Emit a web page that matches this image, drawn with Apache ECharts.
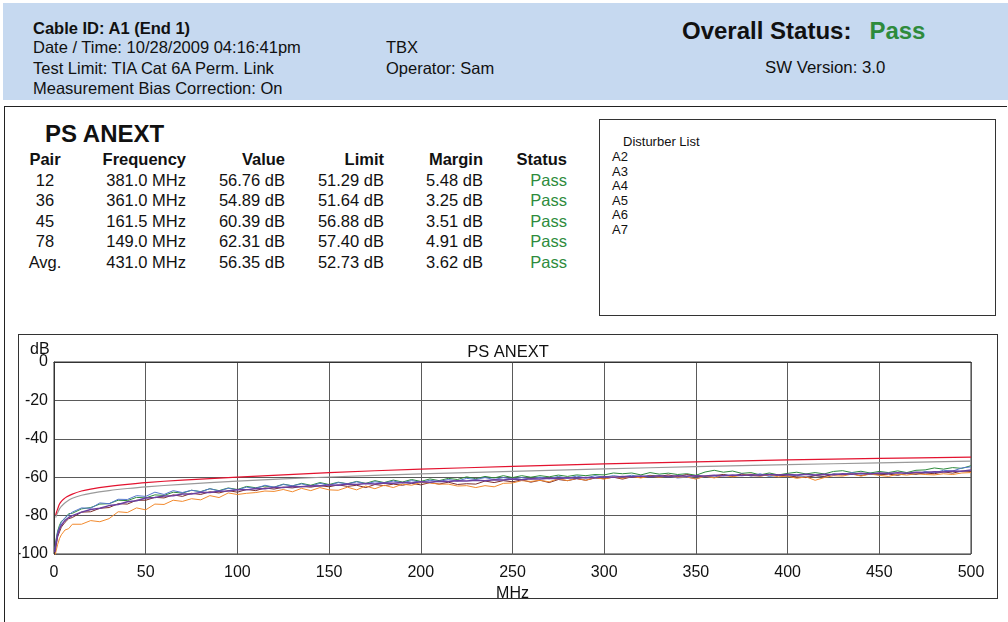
<!DOCTYPE html>
<html>
<head>
<meta charset="utf-8">
<script src="https://cdn.jsdelivr.net/npm/echarts@6/dist/echarts.min.js"></script>
<style>
    body{margin:0;width:1008px;height:622px;overflow:hidden;background:#fff;position:relative;
        font-family:"Liberation Sans",Arial,sans-serif;color:#111;}
    .t{position:absolute;white-space:nowrap;line-height:20px;font-size:16.5px;}
    .b{font-weight:bold;}
    .r{text-align:right;}
    .c{text-align:center;}
    .pass{color:#2e8b3c;}
    #head{position:absolute;left:3px;top:3px;width:1005px;height:97px;background:#c6d9f0;}
    #frame{position:absolute;left:4px;top:106px;width:1002px;height:530px;border-top:1px solid #222;border-left:1px solid #222;}
    #dist{position:absolute;left:599px;top:119px;width:395px;height:195px;border:1px solid #333;}
    .d{position:absolute;white-space:nowrap;font-size:13px;line-height:14px;}
    #chartcon{position:absolute;left:18px;top:334px;width:980px;height:265px;border:1px solid #333;box-sizing:border-box;}
</style>
</head>
<body>
<div id="head"></div>
<div class="t b" style="left:33px;top:18px;">Cable ID: A1 (End 1)</div>
<div class="t" style="left:33px;top:37px;">Date / Time: 10/28/2009 04:16:41pm</div>
<div class="t" style="left:33px;top:58px;">Test Limit: TIA Cat 6A Perm. Link</div>
<div class="t" style="left:33px;top:78px;">Measurement Bias Correction: On</div>
<div class="t" style="left:386px;top:37px;">TBX</div>
<div class="t" style="left:386px;top:58px;">Operator: Sam</div>
<div class="t b" style="left:682px;top:17px;font-size:24px;line-height:28px;">Overall Status:<span class="pass" style="margin-left:18px;">Pass</span></div>
<div class="t" style="left:765px;top:58px;font-size:16.8px;">SW Version: 3.0</div>

<div id="frame"></div>

<div id="table"></div>

<div id="dist"></div>
<div id="distText"></div>

<div id="chartcon"></div>

<script>
    // 表格数据
    let pairs = ['12', '36', '45', '78', 'Avg.']
    let worstFreq = ['381.0 MHz', '361.0 MHz', '161.5 MHz', '149.0 MHz', '431.0 MHz']
    let worstValue = ['56.76 dB', '54.89 dB', '60.39 dB', '62.31 dB', '56.35 dB']
    let worstLimit = ['51.29 dB', '51.64 dB', '56.88 dB', '57.40 dB', '52.73 dB']
    let worstMargin = ['5.48 dB', '3.25 dB', '3.51 dB', '4.91 dB', '3.62 dB']
    let pairStatus = ['Pass', 'Pass', 'Pass', 'Pass', 'Pass']
    let disturbers = ['A2', 'A3', 'A4', 'A5', 'A6', 'A7']

    // 曲线数据 (MHz / dB)
    let freqMHz = [0.5,1,2,3,4,6,8,10,
        15,20,25,30,35,40,45,50,55,60,
        65,70,75,80,85,90,95,100,105,110,
        115,120,125,130,135,140,145,150,155,160,
        165,170,175,180,185,190,195,200,205,210,
        215,220,225,230,235,240,245,250,255,260,
        265,270,275,280,285,290,295,300,305,310,
        315,320,325,330,335,340,345,350,355,360,
        365,370,375,380,385,390,395,400,405,410,
        415,420,425,430,435,440,445,450,455,460,
        465,470,475,480,485,490,495,500]
    let pair12 = [-97,-93,-88,-85,-83,-81.5,-79,-78.8,
        -76.5,-75.8,-74,-73.8,-72,-72.2,-70.5,-70.8,-69.2,-69.5,
        -67.8,-68.3,-66.8,-67.5,-66,-67,-65.6,-66.4,-64.8,-65.5,
        -64.6,-65.2,-63.6,-64.5,-63.2,-64.2,-62.8,-63.8,-62.6,-63.4,
        -62.2,-63.2,-61.8,-62.8,-61.5,-62.5,-61.2,-62.2,-60.9,-61.8,
        -60.6,-61.2,-59.8,-60.8,-59.6,-60.4,-59.2,-60.2,-59.2,-60,
        -59.2,-59.8,-58.9,-59.6,-58.8,-59.2,-58.6,-58.8,-57.8,-58.2,
        -57.8,-58.8,-57.6,-58.4,-57.9,-58.6,-58.2,-59,-57.3,-56.4,
        -57.4,-56.8,-58,-57.6,-58.8,-57.8,-58.8,-58,-57.4,-58.3,
        -57.6,-58.3,-57,-56.6,-57.6,-56.9,-57.8,-57,-57.6,-56.7,
        -57.6,-56.4,-56.2,-55.2,-55.8,-55,-55.4,-54]
    let pair36 = [-98,-94,-88.5,-86,-83.5,-81,-79.6,-78.2,
        -76,-76.2,-73.4,-73.8,-71.5,-71.6,-69.6,-70,-67.8,-69,
        -67,-68,-66.8,-67.6,-66,-67.2,-65.8,-66.6,-65.2,-65.8,
        -64.2,-65.2,-63.8,-64.5,-63.5,-64.6,-63.2,-64.2,-62.8,-63.5,
        -62.4,-63.4,-62.4,-63,-62,-62.9,-61.8,-62.6,-61.6,-62.2,
        -61.2,-62,-60.6,-61.2,-60.2,-61.2,-60.2,-61,-60.2,-60.9,
        -60,-60.8,-59.6,-60.6,-59.4,-60.4,-59.2,-60,-59.2,-59.8,
        -59,-59.8,-59,-59.6,-59.4,-60.4,-60,-60.8,-59.6,-60,
        -58.6,-59.4,-58.2,-59.4,-58.2,-59.6,-59,-59.5,-59,-59.8,
        -59,-59.8,-58.2,-58.6,-57.6,-58.4,-57.8,-58.6,-57.8,-58.8,
        -58.2,-58.6,-57,-57.8,-56.4,-56.8,-55.2,-54.6]
    let pair45 = [-100,-96.5,-91,-88.5,-86,-83.5,-81.6,-81,
        -78.2,-78,-76.2,-75.8,-73.8,-74,-72,-72,-70.5,-70.8,
        -69.2,-70,-68.4,-69,-67.6,-68.2,-67,-67.8,-66.4,-67,
        -65.6,-66.2,-65.2,-65.6,-64.8,-65.2,-64.4,-65,-64,-64.8,
        -64.2,-65.4,-63.8,-64.4,-63.6,-64.2,-63.2,-64,-62.8,-63.6,
        -62.6,-63.8,-63.4,-63.6,-62,-62.8,-61.8,-62.4,-61.4,-62.6,
        -61.6,-62.8,-61.2,-61.8,-60.8,-61.6,-60.4,-60.8,-60,-61,
        -59.8,-60.2,-59.2,-59.6,-58.8,-59.8,-58.6,-59.6,-59.6,-59.2,
        -58.6,-59.6,-58.4,-59.2,-59.4,-58.6,-58.8,-59.4,-59.8,-60.2,
        -59.2,-59.6,-58.4,-58.8,-58.2,-59.2,-58.2,-58.8,-58.4,-59,
        -58,-58.4,-57.8,-58.2,-57.2,-57.9,-56.8,-57]
    let pair78 = [-102,-99,-95,-92,-90,-87.5,-86.8,-84.5,
        -84.5,-82.6,-83.2,-81.6,-78,-78.4,-76,-77,-74,-74.2,
        -72,-72.6,-71.2,-71.8,-69.6,-70.6,-68.2,-69,-68.4,-68,
        -67.2,-67.4,-66.4,-67.6,-65.8,-67,-65.4,-66.6,-66.8,-65.2,
        -66.6,-64.6,-66,-64.2,-65.4,-63.6,-64.2,-62.8,-63,-63.6,
        -63.6,-64.6,-64.4,-65.4,-64.4,-65,-63.2,-63,-61.8,-62.2,
        -61.6,-62.4,-60.8,-61.8,-60.6,-61.6,-60.2,-61,-59.8,-60.6,
        -59.6,-60.4,-59.4,-60,-59.4,-60,-59.8,-61,-59.4,-60.4,
        -59,-59.8,-59,-58.4,-59.4,-58.8,-59.8,-59.4,-60.6,-59.8,
        -61.6,-60.2,-59.2,-59.4,-58.4,-59.4,-58.4,-59,-59.6,-58.4,
        -58.9,-58.2,-58.6,-58.8,-58.2,-58.6,-57.8,-57.6]
    let pairAvg = [-99,-95,-90,-87,-85,-82.5,-81,-80,
        -78.2,-76.8,-76.2,-74.8,-74.2,-72.8,-72.3,-70.8,-70.6,-69.8,
        -69.7,-68.8,-68.7,-67.9,-68,-67.3,-67.2,-66.5,-66.6,-65.9,
        -66,-65.3,-65.4,-64.8,-65,-64.4,-64.6,-64,-64.2,-63.6,
        -63.8,-63.3,-63.5,-63,-63.2,-62.8,-63,-62.4,-62.6,-62.1,
        -62.3,-61.8,-62,-61.6,-61.8,-61.3,-61.5,-61,-61.3,-60.8,
        -61,-60.6,-60.8,-60.3,-60.5,-60.1,-60.3,-59.8,-60,-59.6,
        -59.8,-59.4,-59.7,-59.3,-59.6,-59.2,-59.5,-59.2,-59.4,-59,
        -59.2,-58.8,-59.1,-58.7,-59,-58.6,-58.9,-58.6,-58.9,-58.5,
        -58.8,-58.4,-58.7,-58.2,-58.5,-58,-58.3,-57.8,-58.1,-57.7,
        -57.9,-57.4,-57.6,-57.1,-57.3,-56.8,-56.9,-56.3]

    // 限值曲线
    let limitFreq = [0.9,1.5,2,3,4,5,7,10,15,20,30,40,50,70,100,150,200,250,300,350,400,450,500]
    let limitRed = [-79.7,-77.8,-76.5,-74,-72.6,-71.6,-70.2,-68.8,-67.2,-66.2,-64.8,-63.7,-62.8,-61.5,-60,-57.6,-55.8,-54.4,-53.1,-52,-51,-50.2,-49.5]
    let limitGray = [-81,-79.5,-78.5,-76.5,-75.2,-74.2,-72.6,-71,-69.4,-68.4,-67,-65.9,-65,-63.7,-62,-59.9,-58.3,-57,-55.7,-54.5,-53.5,-52.5,-51.6]

    let xTicks = [0, 50, 100, 150, 200, 250, 300, 350, 400, 450, 500]
    let yTicks = [0, -20, -40, -60, -80, -100]

    // 表格
    let tableHtml = '<div class="t b" style="left:45px;top:120px;font-size:24px;line-height:28px;">PS ANEXT</div>'
    let cols = [
        {head: 'Pair', list: pairs, x: 5, w: 80, cls: 'c'},
        {head: 'Frequency', list: worstFreq, x: 86, w: 100, cls: 'r'},
        {head: 'Value', list: worstValue, x: 185, w: 100, cls: 'r'},
        {head: 'Limit', list: worstLimit, x: 284, w: 100, cls: 'r'},
        {head: 'Margin', list: worstMargin, x: 383, w: 100, cls: 'r'},
        {head: 'Status', list: pairStatus, x: 467, w: 100, cls: 'r pass'}
    ]
    let rowTop = [170, 190, 211, 231, 252]
    cols.forEach(function (col) {
        let hc = col.cls.replace(' pass', '')
        tableHtml += '<div class="t b ' + hc + '" style="left:' + col.x + 'px;top:149px;width:' + col.w + 'px;">' + col.head + '</div>'
        col.list.forEach(function (v, i) {
            tableHtml += '<div class="t ' + col.cls + '" style="left:' + col.x + 'px;top:' + rowTop[i] + 'px;width:' + col.w + 'px;">' + v + '</div>'
        })
    })
    document.getElementById('table').innerHTML = tableHtml

    let distHtml = '<div class="d" style="left:623px;top:135px;">Disturber List</div>'
    disturbers.forEach(function (d, i) {
        distHtml += '<div class="d" style="left:612px;top:' + (150 + i * 14.6) + 'px;">' + d + '</div>'
    })
    document.getElementById('distText').innerHTML = distHtml

    function zip(xs, ys) {
        return xs.map(function (x, i) { return [x, ys[i]] })
    }

    let myChart = echarts.init(document.getElementById('chartcon'))
    let traceList = [
        {name: '12', color: '#2e8b3c', data: pair12, w: 1},
        {name: '36', color: '#5577cc', data: pair36, w: 1},
        {name: '45', color: '#7b2d2d', data: pair45, w: 1},
        {name: '78', color: '#f28a2e', data: pair78, w: 1},
        {name: 'Avg.', color: '#6b3fa0', data: pairAvg, w: 1.5}
    ]
    let seriesList = [
        {name: 'LimitGray', type: 'line', showSymbol: false, smooth: 0.3, data: zip(limitFreq, limitGray),
            lineStyle: {color: '#9a9a9a', width: 1.2}, silent: true},
        {name: 'Limit', type: 'line', showSymbol: false, smooth: 0.3, data: zip(limitFreq, limitRed),
            lineStyle: {color: '#e3132f', width: 1.2}, silent: true}
    ]
    traceList.forEach(function (item) {
        seriesList.push({
            name: item.name,
            type: 'line',
            showSymbol: false,
            data: zip(freqMHz, item.data),
            lineStyle: {color: item.color, width: item.w}
        })
    })

    myChart.setOption({
        animation: false,
        textStyle: {fontFamily: '"Liberation Sans", Arial, sans-serif'},
        title: [
            {text: 'PS ANEXT', left: 'center', top: 4, textStyle: {fontSize: 16.5, fontWeight: 'normal', color: '#111'}},
            {text: 'dB', left: 6, top: 2, textStyle: {fontSize: 16, fontWeight: 'normal', color: '#111'}}
        ],
        grid: {left: 35, top: 27, right: 26, bottom: 44, outerBoundsMode: 'none',
            show: true, borderColor: '#333', borderWidth: 1},
        xAxis: {
            type: 'value', min: xTicks[0], max: xTicks[xTicks.length - 1], interval: 50,
            name: 'MHz', nameLocation: 'middle', nameGap: 31,
            nameTextStyle: {fontSize: 16, color: '#111'},
            axisLine: {lineStyle: {color: '#333'}},
            axisTick: {show: false},
            axisLabel: {fontSize: 16, color: '#111', margin: 11},
            splitLine: {show: true, lineStyle: {color: '#5a5a5a', width: 1}}
        },
        yAxis: {
            type: 'value', min: yTicks[yTicks.length - 1], max: yTicks[0], interval: 20,
            axisLine: {show: true, lineStyle: {color: '#333'}},
            axisTick: {show: false},
            axisLabel: {fontSize: 16, color: '#111', margin: 6},
            splitLine: {show: true, lineStyle: {color: '#5a5a5a', width: 1}}
        },
        series: seriesList
    })
</script>
</body>
</html>
